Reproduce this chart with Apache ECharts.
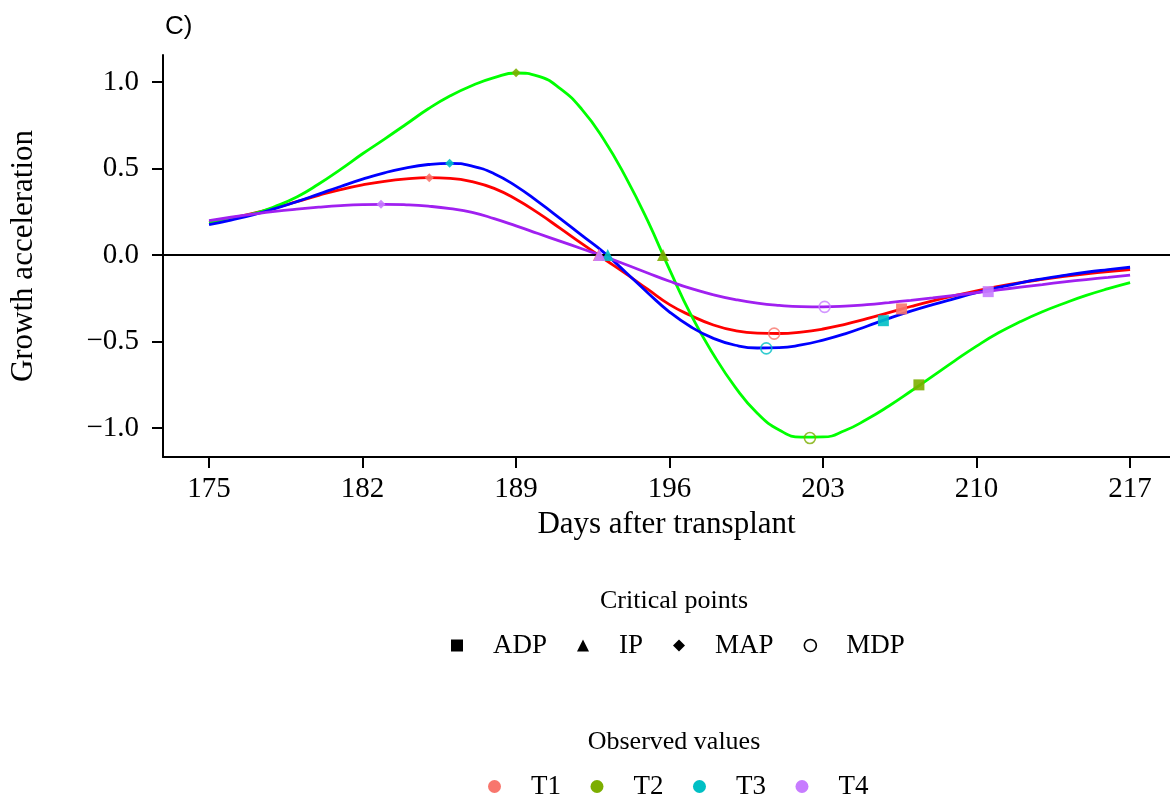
<!DOCTYPE html>
<html>
<head>
<meta charset="utf-8">
<title>Growth acceleration</title>
<script src="https://cdn.jsdelivr.net/npm/echarts@6/dist/echarts.min.js"></script>
<style>
  html, body { margin: 0; padding: 0; background: #fff; }
  #chart { width: 1170px; height: 796px; }
</style>
</head>
<body>
<div id="chart"></div>
<script>
// days after transplant (fitted curve sampled daily)
const days = [175,176,177,178,179,180,181,182,183,184,185,186,187,188,189,190,191,192,193,194,195,196,
  197,198,199,200,201,202,203,204,205,206,207,208,209,210,211,212,213,214,215,216,217]

// growth acceleration, one array per treatment
const t1 = [0.19,0.214,0.24,0.272,0.308,0.345,0.378,0.405,0.426,0.44,0.447,0.443,0.424,0.385,0.322,0.243,0.155,0.065,-0.022,
  -0.108,-0.198,-0.287,-0.352,-0.405,-0.438,-0.452,-0.454,-0.446,-0.428,-0.401,-0.368,-0.333,-0.298,-0.265,-0.235,-0.207,
  -0.182,-0.16,-0.141,-0.124,-0.109,-0.096,-0.085]
const t2 = [0.187,0.21,0.237,0.28,0.335,0.41,0.495,0.585,0.67,0.757,0.845,0.92,0.98,1.025,1.052,1.034,0.963,0.842,0.668,
  0.45,0.198,-0.085,-0.352,-0.575,-0.765,-0.915,-1.012,-1.053,-1.052,-1.015,-0.95,-0.873,-0.788,-0.7,-0.612,-0.527,
  -0.45,-0.385,-0.328,-0.279,-0.234,-0.195,-0.16]
const t3 = [0.175,0.202,0.232,0.268,0.308,0.352,0.396,0.438,0.475,0.504,0.523,0.53,0.514,0.47,0.398,0.308,0.212,0.113,0.015,
  -0.1,-0.218,-0.33,-0.418,-0.482,-0.522,-0.538,-0.536,-0.52,-0.492,-0.456,-0.412,-0.367,-0.325,-0.287,-0.252,-0.218,
  -0.188,-0.161,-0.138,-0.118,-0.1,-0.085,-0.071]
const t4 = [0.198,0.218,0.236,0.252,0.265,0.276,0.285,0.291,0.293,0.29,0.282,0.268,0.246,0.21,0.168,0.124,0.08,0.036,-0.008,
  -0.055,-0.104,-0.152,-0.195,-0.23,-0.258,-0.279,-0.292,-0.299,-0.3,-0.296,-0.287,-0.275,-0.262,-0.248,-0.233,-0.218,
  -0.202,-0.186,-0.171,-0.156,-0.142,-0.129,-0.117]

const treatments = ['T1', 'T2', 'T3', 'T4']
const curves = [t1, t2, t3, t4]
const lineColors = ['#FF0000', '#00FF00', '#0000FF', '#A020F0']
const pointColors = ['#F8766D', '#7CAE00', '#00BFC4', '#C77CFF']

// critical points, in treatment order T1..T4
const adpDays = [206.58, 207.37, 205.75, 210.53]
const adpVals = [-0.312, -0.751, -0.38, -0.212]
const ipDays = [192.77, 195.7, 193.18, 192.8]
const ipVals = [0, 0, 0, 0]
const mapDays = [185.04, 189.0, 185.97, 182.84]
const mapVals = [0.447, 1.054, 0.53, 0.293]
const mdpDays = [200.77, 202.4, 200.41, 203.07]
const mdpVals = [-0.455, -1.058, -0.54, -0.3]

const xTicks = [175, 182, 189, 196, 203, 210, 217]
const yTicks = [-1, -0.5, 0, 0.5, 1]

const serif = 'Liberation Serif'

const chart = echarts.init(document.getElementById('chart'))

const lineSeries = treatments.map((name, i) => ({
  name: name,
  type: 'line',
  data: days.map((d, k) => [d, curves[i][k]]),
  smooth: true,
  symbol: 'none',
  lineStyle: { width: 2.8, color: lineColors[i] },
  itemStyle: { color: lineColors[i] },
  z: 2
}))

// zero reference line goes with the first curve
lineSeries[0].markLine = {
  silent: true,
  symbol: 'none',
  label: { show: false },
  lineStyle: { color: '#000', width: 2, type: 'solid' },
  data: [{ yAxis: 0 }],
  animation: false
}

const pointSeries = (name, xs, ys, symbol, size, hollow) => ({
  name: name,
  type: 'scatter',
  symbol: symbol,
  symbolSize: size,
  z: 5,
  itemStyle: hollow
    ? { color: 'transparent', borderColor: '#000', borderWidth: 1.6 }
    : { color: '#000' },
  data: xs.map((d, i) => ({
    value: [d, ys[i]],
    itemStyle: hollow
      ? { color: 'transparent', borderColor: pointColors[i], borderWidth: 1.6 }
      : { color: pointColors[i], opacity: 0.9 }
  }))
})

const titleText = { fontFamily: serif, fontSize: 26, fontWeight: 'normal', color: '#000' }
const solidKey = { color: '#000', opacity: 1, borderWidth: 0 }

const option = {
  animation: false,
  backgroundColor: '#fff',
  title: [
    { text: 'C)', left: 160, top: 9, textStyle: { fontFamily: 'Liberation Sans', fontSize: 26, fontWeight: 'normal', color: '#000' } },
    { text: 'Critical points', left: 669, top: 583, textAlign: 'center', textStyle: titleText },
    { text: 'Observed values', left: 669, top: 724, textAlign: 'center', textStyle: titleText }
  ],
  legend: [
    {
      left: 451,
      top: 632,
      padding: 0,
      selectedMode: false,
      itemWidth: 12,
      itemHeight: 12,
      itemGap: 30,
      textStyle: { fontFamily: serif, fontSize: 27, color: '#000', padding: [0, 0, 0, 25] },
      data: [
        { name: 'ADP', icon: 'rect', itemStyle: solidKey },
        { name: 'IP', icon: 'triangle', itemStyle: solidKey },
        { name: 'MAP', icon: 'diamond', itemStyle: solidKey },
        { name: 'MDP', icon: 'circle', itemStyle: { color: '#fff', borderColor: '#000', borderWidth: 1.6, opacity: 1 } }
      ]
    },
    {
      left: 488,
      top: 773,
      padding: 0,
      selectedMode: false,
      itemWidth: 13,
      itemHeight: 13,
      itemGap: 29.5,
      textStyle: { fontFamily: serif, fontSize: 27, color: '#000', padding: [0, 0, 0, 25] },
      data: treatments.map((name, i) => ({ name: name, icon: 'circle', itemStyle: { color: pointColors[i] } }))
    }
  ],
  grid: { left: 162, right: 0, top: 55, bottom: 339, containLabel: false },
  xAxis: {
    type: 'value',
    min: 172.9,
    max: 218.82,
    name: 'Days after transplant',
    nameLocation: 'middle',
    nameGap: 52,
    nameTextStyle: { fontFamily: serif, fontSize: 31, color: '#000' },
    axisLine: { onZero: false, lineStyle: { color: '#000', width: 2 } },
    axisTick: { length: 11, lineStyle: { color: '#000', width: 2 }, customValues: xTicks },
    axisLabel: { customValues: xTicks, margin: 18, fontFamily: serif, fontSize: 29, color: '#000' },
    splitLine: { show: false }
  },
  yAxis: {
    type: 'value',
    min: -1.168,
    max: 1.156,
    name: 'Growth acceleration',
    nameLocation: 'middle',
    nameGap: 124,
    nameTextStyle: { fontFamily: serif, fontSize: 31, color: '#000' },
    axisLine: { show: true, lineStyle: { color: '#000', width: 2 } },
    axisTick: { show: true, length: 11, lineStyle: { color: '#000', width: 2 }, customValues: yTicks },
    axisLabel: {
      customValues: yTicks,
      margin: 24,
      fontFamily: serif,
      fontSize: 29,
      color: '#000',
      formatter: v => (v < 0 ? '\u2212' : '') + Math.abs(v).toFixed(1)
    },
    splitLine: { show: false }
  },
  series: [
    ...lineSeries,
    pointSeries('ADP', adpDays, adpVals, 'rect', 11, false),
    pointSeries('IP', ipDays, ipVals, 'triangle', 12, false),
    pointSeries('MAP', mapDays, mapVals, 'diamond', 9, false),
    pointSeries('MDP', mdpDays, mdpVals, 'circle', 11, true)
  ]
}

chart.setOption(option)
</script>
</body>
</html>
